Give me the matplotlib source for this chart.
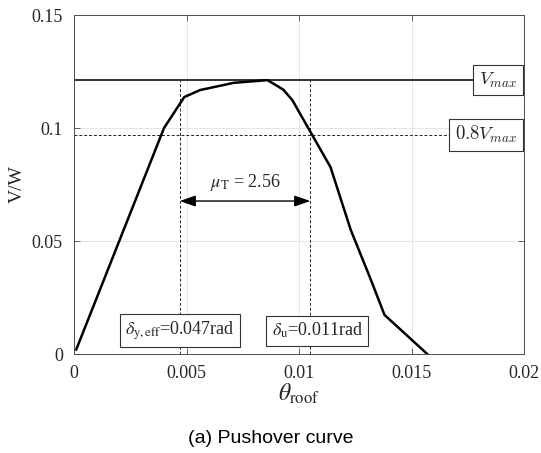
import matplotlib.pyplot as plt
import numpy as np

# pushover curve: roof drift ratio vs normalised base shear
theta_roof = [0.0001, 0.0040, 0.0049, 0.0056, 0.0071, 0.0086, 0.0093, 0.0097,
              0.0114, 0.0123, 0.0132, 0.0138, 0.0157]
v_over_w = [0.002, 0.100, 0.1137, 0.1168, 0.1200, 0.1212, 0.1170, 0.1124,
            0.0827, 0.0549, 0.0327, 0.0173, 0.000]

v_max = max(v_over_w)
v_08 = 0.8 * v_max
delta_y_eff = 0.0047
delta_u = 0.0105
mu_T = 2.56

x_ticks = [0, 0.005, 0.01, 0.015, 0.02]
x_tick_labels = ["0", "0.005", "0.01", "0.015", "0.02"]
y_ticks = [0, 0.05, 0.1, 0.15]
y_tick_labels = ["0", "0.05", "0.1", "0.15"]

serif = ["Liberation Serif", "DejaVu Serif"]
plt.rcParams["font.family"] = serif
plt.rcParams["mathtext.fontset"] = "stix"

fig = plt.figure(figsize=(5.41, 4.53), dpi=100)
ax = fig.add_axes([0.1368, 0.2185, 0.8318, 0.7483])

axis_grey = "#4d4d4d"
text_col = "#262626"
ax.set_xlim(0, 0.02)
ax.set_ylim(0, 0.15)
ax.set_xticks(x_ticks)
ax.set_xticklabels(x_tick_labels)
ax.set_yticks(y_ticks)
ax.set_yticklabels(y_tick_labels)
ax.tick_params(direction="in", top=True, right=True, length=4, width=0.6,
               color=axis_grey, labelcolor=text_col, labelsize=13, pad=8)
for s in ax.spines.values():
    s.set_color(axis_grey)
    s.set_linewidth(0.7)
ax.grid(True, color="#e6e6e6", linewidth=0.7)
ax.set_axisbelow(True)

# reference levels
ax.axhline(v_max, color="#222222", linewidth=1.3, zorder=2)
ax.plot([0, 0.0198], [v_08, v_08], color="#222222", linestyle=(0, (3, 2)),
        linewidth=0.7, zorder=2)
for xd in (delta_y_eff, delta_u):
    ax.plot([xd, xd], [0, v_max], color="#222222", linestyle=(0, (3, 2)),
            linewidth=0.7, zorder=2)

ax.plot(theta_roof, v_over_w, color="black", linewidth=1.8, zorder=3)

# ductility arrow
arrow_y = 0.0677
ax.annotate("", xy=(delta_u, arrow_y), xytext=(delta_y_eff, arrow_y),
            arrowprops=dict(arrowstyle="<|-|>,head_length=0.8,head_width=0.28",
                            color="black", lw=1.0, mutation_scale=12,
                            shrinkA=0, shrinkB=0))
ax.text((delta_y_eff + delta_u) / 2, arrow_y + 0.0035,
        r"$\mu_{\rm T}$ = " + f"{mu_T:.2f}", ha="center", va="bottom",
        fontsize=13, color=text_col)

box = dict(boxstyle="square,pad=0.3", facecolor="white", edgecolor="#333333",
           linewidth=0.8)
ax.text(0.0197, v_max, r"$V_{max}$", ha="right", va="center", fontsize=13.5,
        math_fontfamily="cm", bbox=box, zorder=4, color=text_col)
ax.text(0.0197, v_08, r"$0.8V_{max}$", ha="right", va="center", fontsize=13.5,
        math_fontfamily="cm", bbox=box, zorder=4, color=text_col)
ax.text(0.00228, 0.0103, r"$\delta_{\rm y,eff}$=0.047rad", ha="left",
        va="center", fontsize=13, bbox=box, zorder=4, color=text_col)
ax.text(0.00878, 0.0103, r"$\delta_{\rm u}$=0.011rad", ha="left",
        va="center", fontsize=13, bbox=box, zorder=4, color=text_col)

ax.set_ylabel("V/W", fontsize=14, labelpad=4, color=text_col)
ax.set_xlabel(r"$\theta_{\rm roof}$", fontsize=17, labelpad=0, color=text_col)

fig.text(0.5, 0.033, "(a) Pushover curve", ha="center", va="center",
         fontsize=14, family=["Liberation Sans", "DejaVu Sans"])

fig.savefig("out.png", dpi=100)
